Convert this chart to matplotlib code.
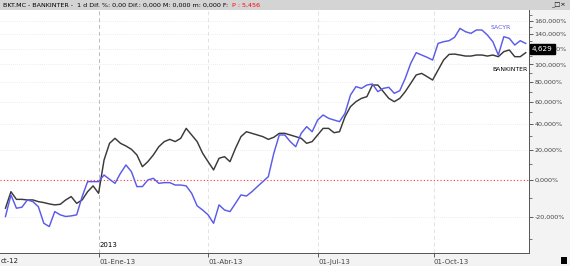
import numpy as np
import matplotlib.pyplot as plt
from matplotlib.patches import Rectangle

# cumulative return (%) sampled roughly every 3 trading days, Oct-12 .. Dec-13
bankinter = [-15.6, -6.8, -11.0, -11.0, -11.3, -11.3, -12.2, -12.7, -13.4, -13.9,
             -13.6, -11.3, -9.5, -13.1, -11.3, -6.8, -3.5, -7.7, 12.7, 24.6,
             28.4, 24.6, 22.6, 20.2, 16.2, 8.3, 11.6, 16.2, 22.1, 25.9,
             27.6, 25.9, 28.4, 36.3, 31.0, 25.9, 17.4, 11.6, 6.2, 13.9,
             15.0, 11.6, 20.9, 29.7, 33.6, 32.3, 31.0, 29.7, 27.6, 29.2,
             32.3, 32.3, 31.0, 29.7, 28.4, 24.6, 25.9, 31.0, 36.3, 36.3,
             32.8, 33.6, 46.2, 55.3, 60.0, 63.2, 64.9, 76.8, 76.8, 69.9,
             63.2, 60.0, 63.2, 69.9, 78.6, 87.8, 89.6, 85.9, 82.2, 93.5,
             105.4, 112.5, 112.9, 111.7, 110.4, 110.4, 111.7, 111.7, 110.4, 111.7,
             109.6, 116.0, 118.2, 109.6, 109.6, 114.7]

sacyr = [-19.7, -8.6, -15.6, -15.1, -11.3, -12.2, -14.8, -22.9, -24.4, -17.3,
         -18.9, -19.7, -19.4, -18.9, -9.5, -1.0, -1.0, -1.0, 3.0, 0.4,
         -2.0, 4.1, 9.4, 5.1, -3.9, -3.9, 0.0, 1.0, -2.0, -1.6,
         -1.6, -3.0, -3.0, -3.5, -7.7, -14.4, -16.5, -18.9, -22.9, -13.9,
         -16.5, -17.3, -13.1, -8.6, -9.2, -6.8, -3.9, -1.0, 2.0, 17.4,
         31.0, 31.0, 25.9, 22.1, 32.3, 37.7, 33.6, 43.3, 47.7, 44.8,
         43.3, 41.9, 49.2, 66.5, 75.1, 73.3, 76.8, 77.9, 69.9, 73.3,
         74.4, 68.2, 70.9, 84.0, 101.4, 114.7, 111.7, 108.8, 105.4, 127.0,
         129.3, 130.7, 135.4, 148.4, 143.5, 141.1, 146.0, 146.0, 138.7, 129.3,
         111.7, 136.3, 134.0, 124.8, 130.7, 127.0]

date_labels = ['01-Ene-13', '01-Abr-13', '01-Jul-13', '01-Oct-13']
date_pos = [17.13, 37.0, 57.13, 78.2]   # sample index of each month start
pct_ticks = [-20, 0, 20, 40, 60, 80, 100, 120, 140, 160]

fig = plt.figure(figsize=(5.70, 2.66), dpi=100)
fig.patch.set_facecolor('#f3f3f3')

# title bar
fig.add_artist(Rectangle((0, 1 - 10 / 266), 1, 10 / 266, transform=fig.transFigure,
                         facecolor='#d4d4d4', edgecolor='none'))
fig.text(3 / 570, 1 - 5 / 266,
         'BKT.MC - BANKINTER -  1 d Dif. %: 0,00 Dif.: 0,000 M: 0,000 m: 0,000 F:',
         fontsize=4.6, va='center', ha='left', color='black')
fig.text(232 / 570, 1 - 5 / 266, 'P : 5,456', fontsize=4.6, va='center', ha='left',
         color='red')
fig.text(566 / 570, 1 - 5 / 266, '_\u25a1\u00d7', fontsize=4.6, va='center', ha='right')

ax = fig.add_axes([0, 13 / 266, 529 / 570, 243 / 266])
ax.set_facecolor('white')

x = np.arange(len(bankinter))
r_bkt = 1 + np.array(bankinter) / 100
r_sac = 1 + np.array(sacyr) / 100

ax.plot(x, r_bkt, color='#3a3a3a', lw=1.05)
ax.plot(x, r_sac, color='#5b5bea', lw=1.05)

ax.set_yscale('log')
ax.set_ylim(0.645, 2.774)
ax.set_xlim(-1.0, 95.6)

ax.yaxis.tick_right()
ax.set_yticks([1 + p / 100 for p in pct_ticks])
ax.set_yticklabels([f'{p},000%' for p in pct_ticks], fontsize=4.6, color='#222222')
ax.set_yticks([1 + p / 100 for p in range(-30, 180, 10) if p % 20], minor=True)
ax.yaxis.set_minor_formatter(plt.NullFormatter())
ax.tick_params(axis='y', which='major', length=3, width=0.6, pad=1, colors='#444444')
ax.tick_params(axis='y', which='minor', length=2, width=0.5, colors='#444444')

ax.set_xticks(date_pos)
ax.set_xticklabels(date_labels, fontsize=5, ha='left', color='#222222')
ax.tick_params(axis='x', length=3, width=0.6, pad=1, direction='out', colors='#444444')

for p in pct_ticks:
    if p != 0:
        ax.axhline(1 + p / 100, color='#dddddd', lw=0.5, ls=(0, (1, 2)), zorder=0)
ax.axhline(1.0, color='#ff3030', lw=0.8, ls=(0, (1, 2)), zorder=1)
for i, d in enumerate(date_pos):
    ax.axvline(d, color='#bbbbbb' if i == 0 else '#e3e3e3', lw=0.7,
               ls=(0, (4, 3)), zorder=0)

for side in ['top', 'left']:
    ax.spines[side].set_visible(False)
ax.spines['right'].set_color('#555555')
ax.spines['bottom'].set_color('#555555')
ax.spines['right'].set_linewidth(0.7)
ax.spines['bottom'].set_linewidth(0.7)

ax.text(date_pos[0] + 0.1, 0.665, '2013', fontsize=5, ha='left', va='bottom')
fig.text(1 / 570, 5 / 266, 'ct-12', fontsize=5, ha='left', va='center', color='#222222')

ax.text(0.965, 0.93, 'SACYR', transform=ax.transAxes, fontsize=4.4, color='#5b5bea',
        ha='right', va='center')
ax.text(0.998, 0.755, 'BANKINTER', transform=ax.transAxes, fontsize=4.4, color='black',
        ha='right', va='center')

# last value box, drawn over the 120% label as in the original
fig.text(532 / 570, 1 - 49 / 266, '4,629', fontsize=5.2, color='white', ha='left',
         va='center', zorder=5,
         bbox=dict(boxstyle='square,pad=0.3', facecolor='black', edgecolor='black'))

# bottom-right icons
fig.add_artist(Rectangle((561 / 570, 2 / 266), 6 / 570, 7 / 266, transform=fig.transFigure,
                         facecolor='black', edgecolor='none'))

fig.savefig('out.png', dpi=100)
